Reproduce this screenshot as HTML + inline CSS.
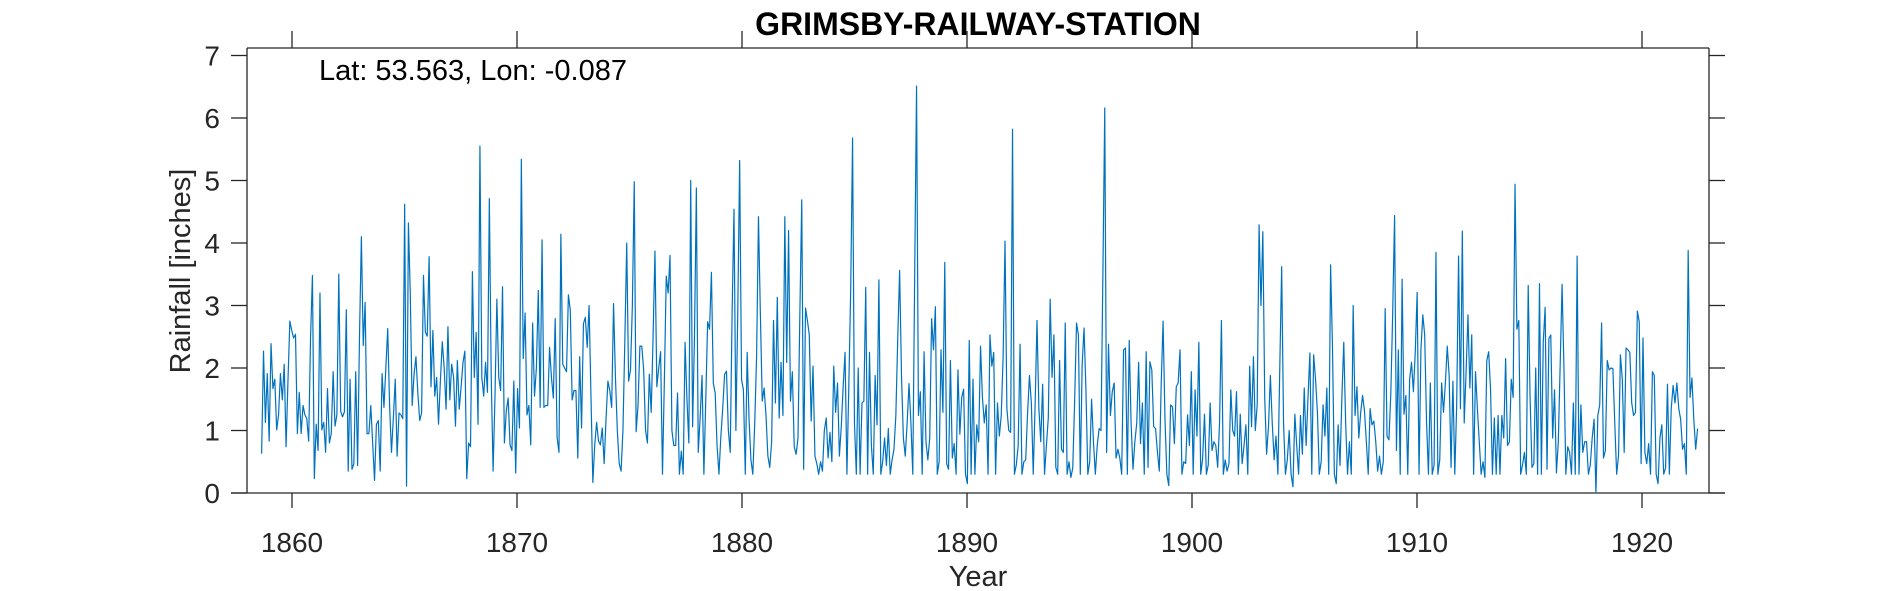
<!DOCTYPE html>
<html><head><meta charset="utf-8"><style>
html,body{margin:0;padding:0;background:#fff}
svg{display:block}
text{font-family:"Liberation Sans",Arial,sans-serif;fill:#262626}
</style></head><body>
<svg id="chart" width="1890" height="591" viewBox="0 0 1890 591">
<text x="978" y="35" text-anchor="middle" font-size="32" font-weight="bold" style="fill:#000">GRIMSBY-RAILWAY-STATION</text>
<text x="319" y="80" font-size="29" style="fill:#000">Lat: 53.563, Lon: -0.087</text>
<text transform="translate(190,271) rotate(-90)" text-anchor="middle" font-size="29">Rainfall [inches]</text>
<text x="978" y="586" text-anchor="middle" font-size="29">Year</text>
<g id="axes"></g>
<g id="series"></g>
</svg>
<script>
const xTicks = [1860,1870,1880,1890,1900,1910,1920];
const yTicks = [0,1,2,3,4,5,6,7];
const startYear = 1858.65;
const endYear = 1922.47;
const rain = [
0.63,2.27,1.13,1.91,0.83,2.39,1.67,1.82,1.01,1.25,1.91,1.49,2.06,0.74,1.8,2.75,2.6,2.48,2.54,0.95,1.61,0.95,1.40,1.25,1.19,0.83,2.5,3.48,0.23,1.10,0.68,3.2,1.01,1.13,0.65,1.67,0.8,0.95,1.94,1.07,1.25,3.5,1.31,1.22,1.3,2.93,0.35,1.82,0.38,0.47,1.94,0.44,2.5,4.1,2.36,3.05,0.95,0.95,1.40,0.8,0.2,1.1,1.16,0.35,1.91,1.37,2.0,2.63,1.4,0.65,1.2,1.82,0.59,1.28,1.25,1.19,4.62,0.11,4.32,3.17,1.40,1.9,2.18,1.6,1.16,1.28,3.48,2.57,2.51,3.78,1.70,2.60,1.55,1.85,1.10,1.8,2.42,2.0,1.34,2.66,1.49,2.06,1.85,1.07,2.12,1.34,1.7,2.09,2.27,0.23,0.8,0.74,3.54,1.85,2.57,1.10,5.55,1.85,1.55,2.09,1.61,4.71,1.85,0.35,1.55,3.1,1.85,1.64,3.3,0.8,1.31,1.52,0.77,0.68,1.79,0.32,1.67,1.04,5.34,2.15,2.88,1.25,1.40,0.77,2.72,1.55,2.0,3.24,1.37,4.05,1.37,1.40,1.40,2.33,1.85,1.52,2.79,0.89,0.65,4.14,2.06,2.0,1.94,3.17,2.93,1.49,1.64,1.64,0.56,2.18,1.04,2.71,2.81,2.33,3.0,1.55,0.17,0.77,1.13,0.83,0.77,1.04,0.47,1.19,1.79,1.64,1.37,3.03,1.85,1.0,0.47,0.35,1.01,2.45,4.0,1.79,1.97,3.0,4.98,0.98,1.4,2.35,2.35,1.97,1.0,
0.8,1.9,1.29,2.5,3.87,1.7,2.0,2.26,0.3,1.8,3.47,3.2,3.8,1.0,0.76,0.76,1.6,0.3,0.67,0.3,2.41,1.5,0.8,5.0,1.06,2.5,4.88,0.65,1.2,1.88,0.3,1.5,2.74,2.62,3.53,1.76,1.6,0.76,0.3,0.9,1.35,1.9,1.95,1.0,
0.65,2.9,4.54,1.0,2.9,5.32,1.82,1.65,0.3,2.25,1.18,0.53,0.3,1.1,2.18,4.42,2.88,1.47,1.68,1.24,0.59,0.41,0.82,2.76,1.44,3.13,1.2,2.09,1.24,4.42,2.09,4.2,1.47,1.94,0.74,0.62,0.88,2.88,4.69,0.38,2.96,2.76,2.53,1.15,2.03,0.59,0.47,0.3,0.5,0.35,1.0,1.2,0.56,0.97,0.5,2.03,1.29,1.76,0.59,1.06,1.7,2.25,0.3,1.7,3.24,5.68,1.12,0.3,2.0,0.3,1.44,1.47,3.29,0.3,2.25,0.76,0.3,1.88,1.09,3.41,0.3,0.5,0.88,0.44,1.03,0.3,
0.53,0.7,1.24,2.47,3.56,1.88,0.88,0.59,1.12,1.75,1.12,0.3,3.47,6.51,1.24,1.62,0.3,2.26,0.82,0.53,0.88,2.79,2.29,2.98,0.3,0.5,2.29,1.29,3.69,0.47,0.38,2.12,0.56,0.79,0.3,1.97,0.94,1.53,1.66,0.3,0.15,2.44,0.3,1.82,0.3,1.09,0.82,2.35,1.53,1.12,1.41,0.3,2.53,2.03,2.25,0.3,1.44,0.91,1.24,2.18,4.03,1.35,1.0,0.97,5.82,0.3,0.45,0.76,2.38,0.3,0.5,0.53,1.29,1.88,1.44,0.3,1.41,2.76,1.35,0.82,1.74,0.3,0.76,1.2,3.1,1.85,
2.53,0.41,0.3,2.12,0.7,0.65,2.72,0.3,0.5,0.25,0.4,1.47,2.72,2.53,0.3,2.06,2.64,1.65,0.3,0.5,1.5,0.82,0.3,0.76,1.03,1.0,3.47,6.16,0.65,2.38,1.24,1.62,1.76,0.56,0.7,0.56,0.3,2.29,2.32,0.3,2.44,1.12,0.38,0.82,1.12,2.09,0.79,1.44,0.3,2.26,0.41,2.1,1.97,1.06,1.03,0.65,0.35,1.76,2.75,1.18,0.3,0.12,1.41,1.38,0.79,1.7,1.76,2.29,0.3,0.5,0.47,1.25,0.76,1.94,0.3,1.65,0.91,2.41,0.3,0.55,1.26,0.3,0.45,1.44,0.68,0.82,
0.76,0.41,1.12,2.76,0.3,0.53,0.35,0.47,1.65,1.0,0.91,1.62,0.3,1.26,0.47,0.76,1.09,0.3,2.03,1.06,2.18,1.0,1.41,4.29,3.0,4.18,1.53,0.62,1.06,1.88,1.12,0.53,0.91,0.3,2.0,3.62,1.12,0.3,0.53,1.0,0.3,0.1,1.26,0.76,0.3,1.24,0.62,1.68,0.76,1.53,2.24,0.3,2.21,1.82,1.29,0.3,0.5,1.41,0.91,1.68,0.3,3.65,2.35,0.3,0.15,1.09,0.44,1.53,2.41,1.12,0.3,0.82,0.3,3.0,1.24,1.7,0.88,1.29,1.56,1.32,0.82,0.3,1.35,1.09,1.15,
0.82,0.35,0.59,0.3,0.5,2.95,0.91,0.85,1.59,2.88,4.44,0.68,2.29,0.3,3.42,1.26,1.56,0.3,1.82,2.09,1.62,2.26,3.21,0.3,2.29,2.85,2.53,1.12,0.3,1.76,0.3,0.45,3.85,0.3,0.53,1.76,1.29,1.76,2.35,1.88,0.41,1.79,0.3,1.41,3.79,1.35,4.19,1.12,1.94,2.85,1.68,2.53,0.3,1.94,1.35,0.82,0.3,0.5,0.25,2.12,2.26,1.65,0.3,1.2,0.3,1.24,0.3,1.24,0.88,2.15,0.76,0.82,1.82,1.53,4.94,2.62,2.76,0.3,0.45,0.65,0.3,3.32,1.53,0.41,0.47,2.0,
0.3,3.35,0.3,2.41,2.97,0.38,2.47,2.53,0.88,1.65,0.32,0.82,2.06,3.34,2.0,0.3,0.74,0.65,0.3,1.44,0.3,3.79,0.3,1.41,0.65,0.82,0.82,0.3,0.45,0.88,1.18,0.0,1.24,1.41,2.72,0.56,0.68,2.12,1.97,2.0,1.99,1.12,0.3,0.6,2.21,1.82,0.65,2.32,2.29,2.25,1.44,1.24,1.29,2.91,2.74,0.47,2.48,0.65,0.47,0.79,0.3,1.94,1.88,0.3,0.15,0.88,1.09,0.3,0.4,1.74,0.3,1.35,1.72,1.44,1.76,1.35,1.18,0.7,0.79,0.3,3.88,1.53,1.84,1.18,0.7,1.03
];
const NS='http://www.w3.org/2000/svg';
const X0=247,X1=1709,Y0=48,Y1=493;
function xScale(yr){return 292+(yr-1860)*22.5;}
function yScale(v){return 493-v*62.5;}
function yearAt(i){return startYear+(endYear-startYear)*i/(rain.length-1);}
const axes=document.getElementById('axes');
function line(x1,y1,x2,y2,name){
  const l=document.createElementNS(NS,'line');
  l.setAttribute('x1',x1);l.setAttribute('y1',y1);l.setAttribute('x2',x2);l.setAttribute('y2',y2);
  l.setAttribute('stroke','#262626');l.setAttribute('stroke-width','1.3');
  
  
  axes.appendChild(l);return l;
}
line(231,Y1,1725,Y1,'x-axis-line');
line(X0,Y0,X0,Y1,'y-axis-line');
line(X0,Y0,X1,Y0,'top-border');
line(X1,Y0,X1,Y1,'right-border');
xTicks.forEach(t=>{
  const x=xScale(t);
  line(x,Y1,x,508,'x-tick');
  line(x,31,x,Y0,'x-tick-top');
  const tx=document.createElementNS(NS,'text');
  tx.setAttribute('x',x);tx.setAttribute('y',552);tx.setAttribute('text-anchor','middle');tx.setAttribute('font-size','28');
  tx.textContent=t;
  
  
  axes.appendChild(tx);
});
yTicks.forEach(t=>{
  const y=yScale(t);
  line(231,y,X0,y,'y-tick');
  line(X1,y,1725,y,'y-tick-right');
  const tx=document.createElementNS(NS,'text');
  tx.setAttribute('x',220);tx.setAttribute('y',y+10);tx.setAttribute('text-anchor','end');tx.setAttribute('font-size','28');
  tx.textContent=t;
  
  
  axes.appendChild(tx);
});
const pts=rain.map((v,i)=>xScale(yearAt(i)).toFixed(2)+','+yScale(v).toFixed(2)).join(' ');
const pl=document.createElementNS(NS,'polyline');
pl.setAttribute('points',pts);pl.setAttribute('fill','none');pl.setAttribute('stroke','#0072BD');pl.setAttribute('stroke-width','1.2');pl.setAttribute('stroke-linejoin','round');


document.getElementById('series').appendChild(pl);
</script>
</body></html>
